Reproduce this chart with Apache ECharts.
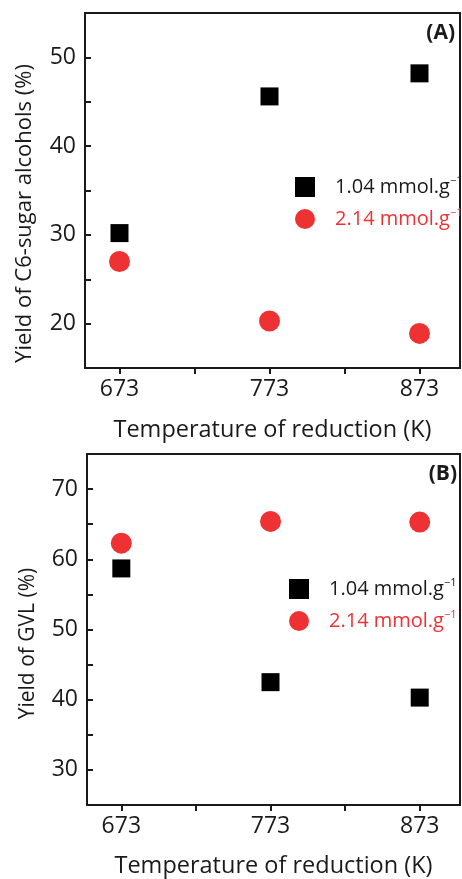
<!DOCTYPE html>
<html>
<head>
<meta charset="utf-8">
<script src="https://cdn.jsdelivr.net/npm/echarts@6/dist/echarts.min.js"></script>
<style>
html,body{margin:0;padding:0;background:#fff;}
#chart{width:462px;height:879px;}
</style>
</head>
<body>
<div id="chart"></div>
<script>
// ---- data ----
var temperatures = [673, 773, 873];
var xTickValues = [673, 723, 773, 823, 873];
var seriesNames = ['1.04 mmol.g', '2.14 mmol.g'];
var sugarLow = [30.2, 45.6, 48.2];   // 1.04 mmol/g, panel A
var sugarHigh = [27.0, 20.3, 18.9];  // 2.14 mmol/g, panel A
var gvlLow = [58.7, 42.5, 40.3];     // 1.04 mmol/g, panel B
var gvlHigh = [62.3, 65.4, 65.3];    // 2.14 mmol/g, panel B
var yLabelsA = [20, 30, 40, 50];
var yLabelsB = [30, 40, 50, 60, 70];

function pairs(xs, ys) { return xs.map(function (x, i) { return [x, ys[i]]; }); }

var FONT = 'Open Sans';
var AX = '#1a1a1a';
var RED = '#ee3234';

function xAxis(gridIndex, gap) {
  return {
    type: 'value', gridIndex: gridIndex, min: 650, max: 900,
    name: 'Temperature of reduction (K)', nameLocation: 'middle', nameGap: gap,
    nameTextStyle: { fontFamily: FONT, fontSize: 23.5, color: AX },
    axisLine: { show: true, lineStyle: { color: AX, width: 2 } },
    axisTick: { show: true, inside: false, length: 6, customValues: xTickValues, lineStyle: { color: AX, width: 2 } },
    axisLabel: { customValues: temperatures, fontFamily: FONT, fontSize: 23, color: AX, margin: 10 },
    splitLine: { show: false }
  };
}
function yAxis(gridIndex, min, max, labels, name, gap, shift, fs) {
  return {
    type: 'value', gridIndex: gridIndex, min: min, max: max, interval: 5,
    name: name, nameLocation: 'middle', nameGap: gap,
    nameTextStyle: { fontFamily: FONT, fontSize: fs, color: AX, padding: [0, shift, 0, 0] },
    axisLine: { show: true, lineStyle: { color: AX, width: 2 } },
    axisTick: { show: true, inside: true, length: 6, lineStyle: { color: AX, width: 2 } },
    axisLabel: { customValues: labels, fontFamily: FONT, fontSize: 23, color: AX, margin: 9 },
    splitLine: { show: false }
  };
}
function legend(top, left) {
  return {
    orient: 'vertical', top: top, left: left, itemGap: 8, padding: 0,
    itemWidth: 20, itemHeight: 20,
    data: [
      { name: seriesNames[0], textStyle: { color: AX } },
      { name: seriesNames[1], textStyle: { color: RED } }
    ],
    formatter: function (n) { return '{t|' + n + '}{s|−1}'; },
    textStyle: {
      fontFamily: FONT, fontSize: 20, padding: [0, 0, 0, 15], lineHeight: 24,
      rich: { t: { fontFamily: FONT, fontSize: 20, lineHeight: 24 }, s: { fontFamily: FONT, fontSize: 11, verticalAlign: 'top', lineHeight: 12 } }
    }
  };
}

var chart = echarts.init(document.getElementById('chart'));
chart.setOption({
  backgroundColor: '#fff',
  animation: false,
  title: [
    { text: '(A)', right: 2, top: 18, textStyle: { fontFamily: FONT, fontWeight: 'bold', fontSize: 21, color: AX } },
    { text: '(B)', right: 0, top: 459, textStyle: { fontFamily: FONT, fontWeight: 'bold', fontSize: 21, color: AX } }
  ],
  grid: [
    { left: 85, top: 13, right: 2, height: 355, show: true, borderColor: AX, borderWidth: 2, containLabel: false },
    { left: 87, top: 454, right: 2, height: 354, show: true, borderColor: AX, borderWidth: 2, containLabel: false }
  ],
  legend: [legend(175, 295), legend(577, 289)],
  xAxis: [xAxis(0, 50), xAxis(1, 49)],
  yAxis: [
    yAxis(0, 15, 55, yLabelsA, 'Yield of C6-sugar alcohols (%)', 49, 46, 22),
    yAxis(1, 25, 75, yLabelsB, 'Yield of GVL (%)', 48, 28, 21)
  ],
  series: [
    { name: seriesNames[0], type: 'scatter', xAxisIndex: 0, yAxisIndex: 0, symbol: 'rect', symbolSize: 18, itemStyle: { color: '#000', opacity: 1 }, data: pairs(temperatures, sugarLow) },
    { name: seriesNames[1], type: 'scatter', xAxisIndex: 0, yAxisIndex: 0, symbol: 'circle', symbolSize: 21, itemStyle: { color: RED, opacity: 1 }, data: pairs(temperatures, sugarHigh) },
    { name: seriesNames[0], type: 'scatter', xAxisIndex: 1, yAxisIndex: 1, symbol: 'rect', symbolSize: 18, itemStyle: { color: '#000', opacity: 1 }, data: pairs(temperatures, gvlLow) },
    { name: seriesNames[1], type: 'scatter', xAxisIndex: 1, yAxisIndex: 1, symbol: 'circle', symbolSize: 21, itemStyle: { color: RED, opacity: 1 }, data: pairs(temperatures, gvlHigh) }
  ]
});
</script>
</body>
</html>
